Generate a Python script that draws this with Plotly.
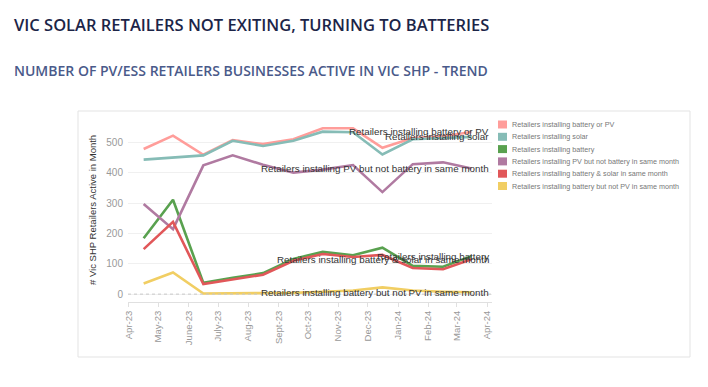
import plotly.graph_objects as go

# ---- data ----
months = ["2023-04-16", "2023-05-16", "2023-06-16", "2023-07-16", "2023-08-16", "2023-09-16",
          "2023-10-16", "2023-11-16", "2023-12-16", "2024-01-16", "2024-02-16", "2024-03-16"]
series_names = [
    "Retailers installing battery or PV",
    "Retailers installing solar",
    "Retailers installing battery",
    "Retailers installing PV but not battery in same month",
    "Retailers installing battery & solar in same month",
    "Retailers installing battery but not PV in same month",
]
battery_or_pv = [478, 522, 459, 507, 494, 510, 546, 546, 482, 514, 520, 534]
solar = [443, 449, 457, 505, 488, 505, 535, 533, 460, 510, 513, 518]
battery = [184, 311, 37, 54, 69, 116, 139, 128, 153, 93, 90, 125]
pv_not_battery = [297, 214, 424, 457, 426, 400, 410, 425, 336, 428, 434, 414]
battery_and_solar = [148, 238, 33, 48, 64, 110, 132, 122, 129, 86, 82, 115]
battery_not_pv = [35, 71, 2, 2, 3, 4, 8, 12, 22, 12, 8, 6]
series_values = [battery_or_pv, solar, battery, pv_not_battery, battery_and_solar, battery_not_pv]
colors = ["#FF9D9A", "#86BCB6", "#59A14F", "#B07AA1", "#E15759", "#F1CE63"]

tick_dates = ["2023-04-01", "2023-05-01", "2023-06-01", "2023-07-01", "2023-08-01", "2023-09-01",
              "2023-10-01", "2023-11-01", "2023-12-01", "2024-01-01", "2024-02-01", "2024-03-01",
              "2024-04-01"]
tick_labels = ["Apr-23", "May-23", "June-23", "July-23", "Aug-23", "Sept-23", "Oct-23", "Nov-23",
               "Dec-23", "Jan-24", "Feb-24", "Mar-24", "Apr-24"]
y_ticks = [0, 100, 200, 300, 400, 500]

# ---- layout geometry (pixels) ----
W, H = 708, 387
PL, PR, PT, PB = 128, 492, 118, 302


def px2x(px):
    return (px - PL) / (PR - PL)


def px2y(py):
    return (PB - py) / (PB - PT)


fig = go.Figure()

for name, vals, col in zip(series_names, series_values, colors):
    fig.add_trace(go.Scatter(x=months, y=vals, mode="lines", name=name,
                             line=dict(color=col, width=2.6), showlegend=False,
                             hoverinfo="x+y+name"))

# end-of-line labels
for name, vals in zip(series_names, series_values):
    fig.add_annotation(x="2024-04-01", y=vals[-1], xref="x", yref="y", text=name,
                       showarrow=False, xanchor="right", yanchor="middle", xshift=4,
                       font=dict(family="Liberation Sans", size=9.8, color="#333333"))

shapes = []
annotations = []
# card border
shapes.append(dict(type="rect", xref="paper", yref="paper",
                   x0=px2x(78), x1=px2x(690), y0=px2y(357), y1=px2y(111),
                   line=dict(color="#e3e3e3", width=1), fillcolor="rgba(0,0,0,0)", layer="below"))
# dotted zero line
shapes.append(dict(type="line", xref="paper", yref="y", x0=0, x1=1, y0=0, y1=0,
                   line=dict(color="#c8c8c8", width=1, dash="dot")))

# manual legend
for i, (name, col) in enumerate(zip(series_names, colors)):
    cy = 124.5 + i * 12.3
    shapes.append(dict(type="rect", xref="paper", yref="paper",
                       x0=px2x(498), x1=px2x(507), y0=px2y(cy + 4), y1=px2y(cy - 4),
                       line=dict(width=0), fillcolor=col))
    annotations.append(dict(x=px2x(510), y=px2y(cy), xref="paper", yref="paper", text=name,
                            showarrow=False, xanchor="left", yanchor="middle",
                            font=dict(family="Liberation Sans", size=7.2, color="#777777")))

# titles
annotations.append(dict(x=px2x(12), y=px2y(24.5), xref="paper", yref="paper",
                        text="VIC SOLAR RETAILERS NOT EXITING, TURNING TO BATTERIES",
                        showarrow=False, xanchor="left", yanchor="middle",
                        font=dict(family="Open Sans", size=16.5, weight=600, color="#1c2548")))
annotations.append(dict(x=px2x(12), y=px2y(70.5), xref="paper", yref="paper",
                        text="NUMBER OF PV/ESS RETAILERS BUSINESSES ACTIVE IN VIC SHP - TREND",
                        showarrow=False, xanchor="left", yanchor="middle",
                        font=dict(family="Open Sans", size=14, weight=600, color="#4a5a8a")))
# y-axis title
annotations.append(dict(x=px2x(92), y=px2y(210), xref="paper", yref="paper",
                        text="# Vic SHP Retailers Active in Month", textangle=-90,
                        showarrow=False, xanchor="center", yanchor="middle",
                        font=dict(family="Liberation Sans", size=9.5, color="#333333")))

for a in annotations:
    fig.add_annotation(**a)

fig.update_layout(
    width=W, height=H,
    margin=dict(l=PL, r=W - PR, t=PT, b=H - PB, pad=0),
    paper_bgcolor="white", plot_bgcolor="white",
    showlegend=False,
    shapes=shapes,
    xaxis=dict(type="date", range=["2023-03-31", "2024-04-06"],
               tickvals=tick_dates, ticktext=tick_labels, tickangle=-90,
               showgrid=False, zeroline=False, showline=True, linecolor="#e0e0e0",
               ticks="outside", ticklen=4, tickcolor="#e0e0e0",
               tickfont=dict(family="Liberation Sans", size=9.5, color="#999999")),
    yaxis=dict(range=[-26, 580], tickvals=y_ticks, showgrid=True, gridcolor="#f0f0f0",
               zeroline=False, showline=False, ticks="", ticklabelstandoff=4,
               tickfont=dict(family="Liberation Sans", size=10, color="#999999")),
)

fig.write_html("out.html", config={"displayModeBar": False},
               post_script="document.body.style.margin='0';")
